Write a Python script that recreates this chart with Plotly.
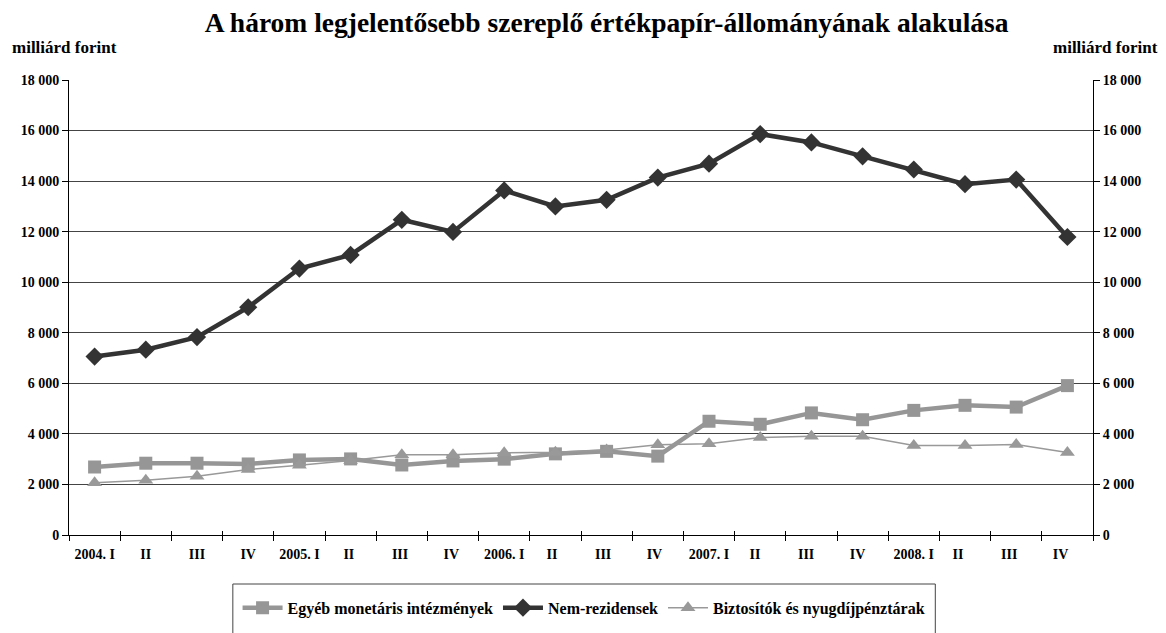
import plotly.graph_objects as go

categories = ["2004. I", "II", "III", "IV",
              "2005. I", "II ", "III ", "IV ",
              "2006. I", "II  ", "III  ", "IV  ",
              "2007. I", "II   ", "III   ", "IV   ",
              "2008. I", "II    ", "III    ", "IV    "]

egyeb = [2690, 2840, 2840, 2810, 2970, 3010, 2770, 2930, 3000, 3210,
         3310, 3120, 4500, 4380, 4830, 4560, 4930, 5130, 5060, 5910]
nem_rezidensek = [7060, 7330, 7830, 9010, 10540, 11080, 12470, 11990, 13630, 13000,
                  13260, 14140, 14690, 15860, 15530, 14980, 14460, 13880, 14060, 11790]
biztositok = [2070, 2170, 2320, 2590, 2760, 2950, 3170, 3170, 3250, 3270,
              3360, 3570, 3610, 3860, 3910, 3910, 3540, 3540, 3580, 3260]

y_tickvals = [0, 2000, 4000, 6000, 8000, 10000, 12000, 14000, 16000, 18000]
y_ticktext = ["0", "2 000", "4 000", "6 000", "8 000", "10 000", "12 000", "14 000", "16 000", "18 000"]

FONT = "Liberation Serif"

fig = go.Figure()
fig.add_trace(go.Scatter(
    x=categories, y=egyeb, name="Egyéb monetáris intézmények",
    mode="lines+markers", line=dict(color="#969696", width=4.5),
    marker=dict(symbol="square", size=13, color="#969696")))
fig.add_trace(go.Scatter(
    x=categories, y=nem_rezidensek, name="Nem-rezidensek",
    mode="lines+markers", line=dict(color="#333333", width=4.5),
    marker=dict(symbol="diamond", size=14, color="#333333")))
fig.add_trace(go.Scatter(
    x=categories, y=biztositok, name="Biztosítók és nyugdíjpénztárak",
    mode="lines+markers", line=dict(color="#999999", width=1.5),
    marker=dict(symbol="triangle-up", size=13, color="#999999")))
# invisible trace to activate the right axis and the inner-tick x axis
fig.add_trace(go.Scatter(
    x=categories, y=nem_rezidensek, xaxis="x2", yaxis="y2", mode="lines",
    line=dict(width=0), showlegend=False, hoverinfo="skip", opacity=0))

tickfont = dict(family=FONT, size=14, color="black", weight="bold")

fig.update_layout(
    width=1158, height=625,
    margin=dict(l=61, r=73, t=72, b=98, autoexpand=False),
    paper_bgcolor="white", plot_bgcolor="white",
    font=dict(family=FONT, color="black"),
    title=dict(text="A három legjelentősebb szereplő értékpapír-állományának alakulása",
               font=dict(family=FONT, size=27.5, color="black", weight="bold"),
               xref="paper", x=0.525, xanchor="center",
               yref="container", y=1 - 14 / 625, yanchor="middle"),
    xaxis=dict(type="category", range=[-0.5, 19.5], tickson="boundaries",
               ticks="outside", ticklen=5, ticklabelstandoff=6,
               tickcolor="black", showline=True, linecolor="black", linewidth=1,
               showgrid=False, tickfont=tickfont, tickangle=0, zeroline=False,
               automargin=False),
    xaxis2=dict(type="category", range=[-0.5, 19.5], tickson="boundaries",
                overlaying="x", side="bottom", anchor="y",
                ticks="inside", ticklen=4, tickcolor="black",
                showticklabels=False, showline=False, showgrid=False,
                zeroline=False, automargin=False),
    yaxis=dict(range=[0, 18000], tickvals=y_tickvals, ticktext=y_ticktext,
               ticks="outside", ticklen=6, tickcolor="black",
               showline=True, linecolor="black", linewidth=1,
               showgrid=True, gridcolor="#444444", gridwidth=1,
               zeroline=False, tickfont=tickfont, automargin=False),
    yaxis2=dict(range=[0, 18000], tickvals=y_tickvals, ticktext=y_ticktext,
                overlaying="y", side="right",
                ticks="outside", ticklen=6, tickcolor="black",
                showline=True, linecolor="black", linewidth=1,
                showgrid=False, zeroline=False, tickfont=tickfont, automargin=False),
    legend=dict(orientation="h", xref="paper", x=0.503, xanchor="center",
                yref="paper", y=-0.16, yanchor="middle",
                borderwidth=0, bgcolor="rgba(0,0,0,0)",
                font=dict(family=FONT, size=16, color="black", weight="bold"),
                itemwidth=40),
    showlegend=True,
    shapes=[dict(type="rect", xref="paper", yref="paper",
                 x0=0.160, x1=0.846, y0=-0.1077, y1=-0.30,
                 line=dict(color="#444444", width=1), fillcolor="rgba(0,0,0,0)",
                 layer="below")],
    annotations=[
        dict(text="milliárd forint", xref="paper", yref="paper",
             x=-0.0576, y=1.0725, xanchor="left", yanchor="middle", showarrow=False,
             font=dict(family=FONT, size=17, color="black", weight="bold")),
        dict(text="milliárd forint", xref="paper", yref="paper",
             x=1.0654, y=1.0725, xanchor="right", yanchor="middle", showarrow=False,
             font=dict(family=FONT, size=17, color="black", weight="bold")),
    ],
)

fig.write_html("out.html")
